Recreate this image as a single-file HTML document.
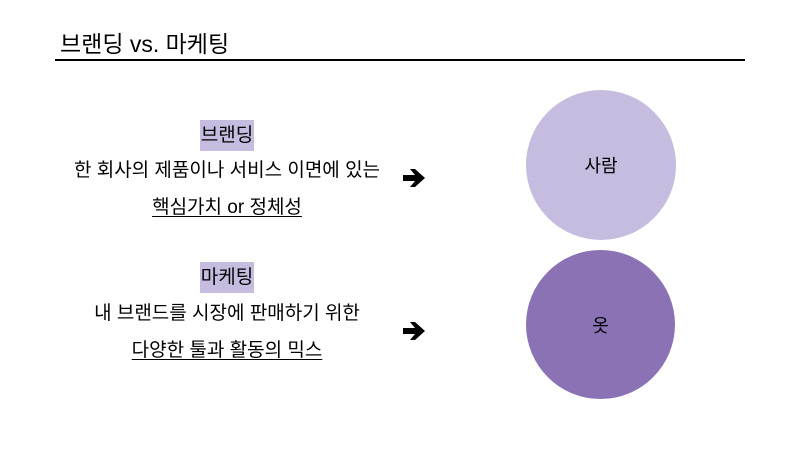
<!DOCTYPE html>
<html><head><meta charset="utf-8"><style>
body{margin:0;width:800px;height:450px;background:#fff;position:relative;overflow:hidden;font-family:"Liberation Sans","Noto Sans CJK KR",sans-serif;color:#000}
.t{position:absolute;white-space:nowrap}
.c{position:absolute;left:0;width:454px;text-align:center;font-size:19px;white-space:nowrap;line-height:22px}
.hl{background:#c5bce0;padding:5px 1px}
.u{text-decoration:underline;text-underline-offset:3px}
.circ{position:absolute;border-radius:50%;display:flex;align-items:center;justify-content:center;font-size:18px}
</style></head><body>
<div class="t" style="left:60px;top:25px;font-size:23px">브랜딩 vs. 마케팅</div>
<div style="position:absolute;left:55px;top:59px;width:690px;height:2px;background:#000"></div>

<div class="c" style="top:125px"><span class="hl">브랜딩</span></div>
<div class="c" style="top:160px">한 회사의 제품이나 서비스 이면에 있는</div>
<div class="c" style="top:197px"><span class="u">핵심가치 or 정체성</span></div>

<div class="c" style="top:267px"><span class="hl">마케팅</span></div>
<div class="c" style="top:303px">내 브랜드를 시장에 판매하기 위한</div>
<div class="c" style="top:340px"><span class="u">다양한 툴과 활동의 믹스</span></div>

<svg style="position:absolute;left:400px;top:166px" width="30" height="24"><path d="M3 9h12l-5-6h5l10 9-10 9h-5l5-6H3z" fill="#000"/></svg>
<svg style="position:absolute;left:400px;top:319px" width="30" height="24"><path d="M3 9h12l-5-6h5l10 9-10 9h-5l5-6H3z" fill="#000"/></svg>

<div class="circ" style="left:526px;top:90px;width:150px;height:150px;background:#c5bce0">사람</div>
<div class="circ" style="left:526px;top:250px;width:149px;height:149px;background:#8a72b4">옷</div>
</body></html>
